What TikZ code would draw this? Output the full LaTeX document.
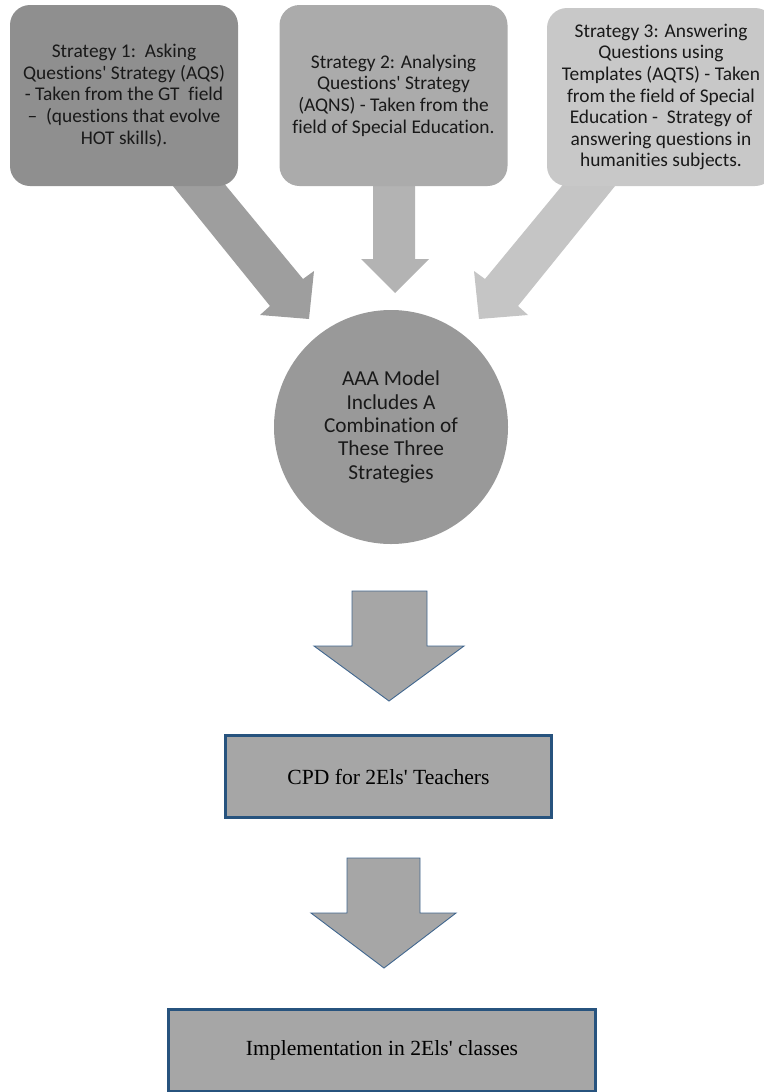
\documentclass[tikz,border=0pt]{standalone}
\usepackage{fontspec}
\setmainfont{Liberation Serif}
\newfontfamily\calfont[Ligatures=NoCommon]{Carlito}
\definecolor{boxA}{HTML}{8F8F8F}
\definecolor{boxB}{HTML}{ABABAB}
\definecolor{boxC}{HTML}{C8C8C8}
\definecolor{arrA}{HTML}{9E9E9E}
\definecolor{arrB}{HTML}{B3B3B3}
\definecolor{arrC}{HTML}{C5C5C5}
\definecolor{circ}{HTML}{999999}
\definecolor{blockfill}{HTML}{A6A6A6}
\definecolor{blockline}{HTML}{41678F}
\definecolor{boxline}{HTML}{27537E}
\newcommand{\q}{\textquotesingle}
\begin{document}
\begin{tikzpicture}[x=1pt,y=-1pt,
  topbox/.style={rounded corners=20pt, minimum width=228pt, minimum height=181pt,
    align=center, inner sep=0pt, text=black!90,
    font=\calfont\fontsize{19.4}{21.6}\selectfont},
  circnode/.style={circle, fill=circ, minimum size=234pt, inner sep=0pt, align=center,
    text=black!90, font=\calfont\fontsize{21.3}{23.3}\selectfont},
  flowbox/.style={draw=boxline, line width=3.5pt, fill=blockfill, minimum width=326pt,
    minimum height=82pt, inner sep=0pt, align=center, font=\fontsize{21.6}{24}\selectfont},
  blockarrow/.style={fill=blockfill, draw=blockline, line width=0.9pt, line join=miter}
]
\useasboundingbox (0,0) rectangle (763,1092);

% slanted/straight block arrows into the circle (drawn first, tails under boxes)
\fill[arrA] (160,170) -- (270,306) -- (260,315) -- (309,319) -- (314,271) -- (303,279) -- (213,170) -- cycle;
\fill[arrB] (373,170) -- (373,259) -- (361,259) -- (395,293) -- (429,259) -- (415,259) -- (415,170) -- cycle;
\fill[arrC] (628,170) -- (518,306) -- (528,315) -- (479,319) -- (474,271) -- (485,279) -- (575,170) -- cycle;

% top strategy boxes
\node[topbox, fill=boxA] (s1) at (124,95.5)
  {Strategy 1:\ \ Asking\\Questions\q{} Strategy (AQS)\\ - Taken from the GT\ \ field\\–\ \ (questions that evolve\\HOT skills).};
\node[topbox, fill=boxB] (s2) at (393.5,95.5)
  {Strategy 2: Analysing\\Questions\q{} Strategy\\(AQNS) - Taken from the\\field of Special Education.};
\node[topbox, fill=boxC, minimum height=178pt] (s3) at (661,97)
  {Strategy 3: Answering\\Questions using\\Templates (AQTS) - Taken\\from the field of Special\\Education -\ \ Strategy of\\answering questions in\\humanities subjects.};

% central circle
\node[circnode] (aaa) at (391,427)
  {AAA Model\\Includes A\\Combination of\\These Three\\Strategies};

% lower flow boxes
\node[flowbox] (cpd) at (388.5,776.5) {CPD for 2Els\q{} Teachers};
\node[flowbox, minimum width=427pt] (impl) at (382,1050.5) {Implementation in 2Els\q{} classes};

% block arrows between the lower stages
\draw[blockarrow] (352,591) -- (427,591) -- (427,646) -- (464,646) -- (389,701) -- (314,646) -- (352,646) -- cycle;
\draw[blockarrow] (347,858) -- (420,858) -- (420,913) -- (456,913) -- (384,968) -- (311,913) -- (347,913) -- cycle;
\end{tikzpicture}
\end{document}
